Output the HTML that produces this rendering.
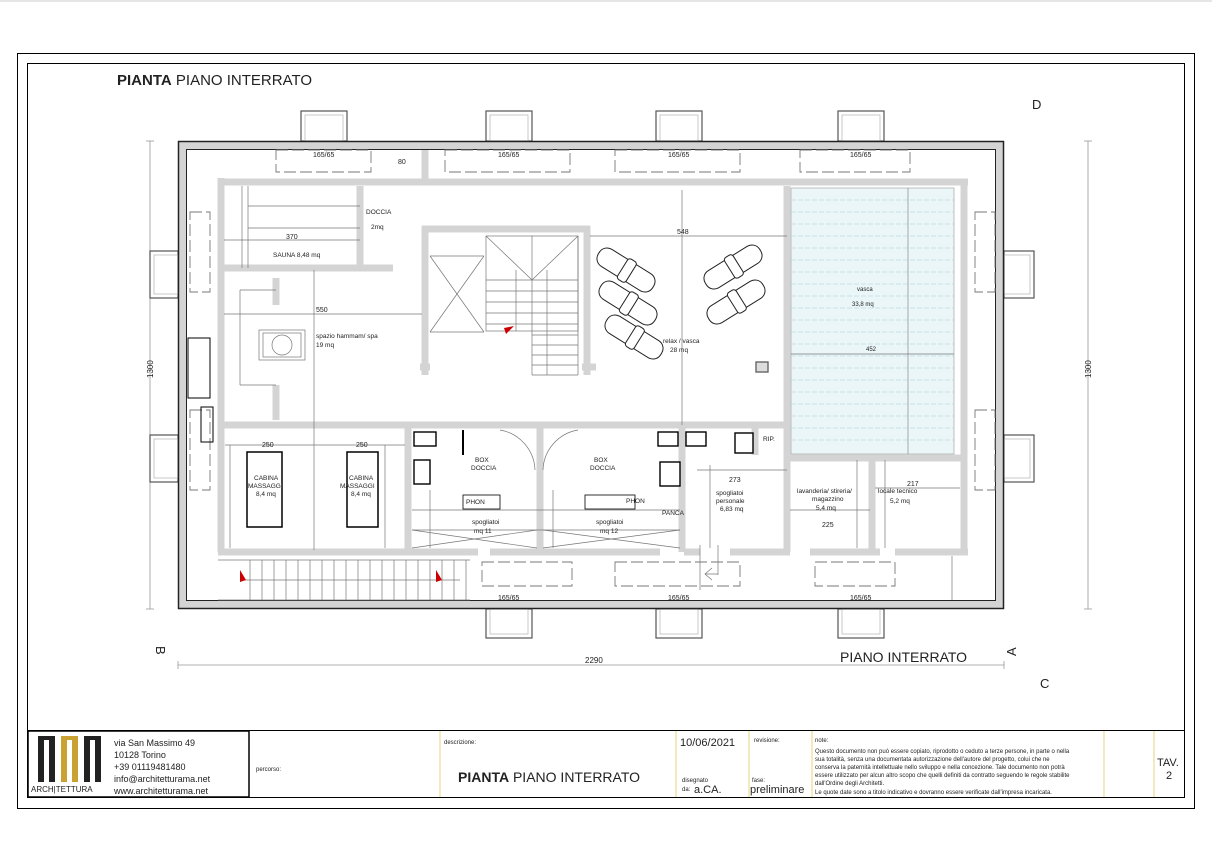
<!DOCTYPE html>
<html><head><meta charset="utf-8"><style>
html,body{margin:0;padding:0;background:#fff}
svg{display:block}
text{font-family:"Liberation Sans",sans-serif;fill:#222}
</style></head><body>
<svg width="1212" height="860" viewBox="0 0 1212 860" xmlns="http://www.w3.org/2000/svg">
<line x1="0" y1="1" x2="1212" y2="1" stroke="#ccc"/>
<rect x="17.5" y="53.5" width="1177" height="755" fill="none" stroke="#000" stroke-width="1"/>
<rect x="27.5" y="63.5" width="1157" height="734" fill="none" stroke="#000" stroke-width="1"/>
<text x="117" y="85" font-size="15" fill="#000"><tspan font-weight="bold">PIANTA</tspan> PIANO INTERRATO</text>
<text x="1032" y="109" font-size="13">D</text>
<text x="1040" y="688" font-size="13">C</text>
<text x="148" y="646" font-size="13" transform="rotate(90 152 650)">B</text>
<text x="1014" y="646" font-size="13" transform="rotate(-90 1020 650)">A</text>
<text x="840" y="662" font-size="14" fill="#000">PIANO INTERRATO</text>

<!-- dimension lines -->
<g stroke="#999" stroke-width="0.8" fill="none">
<line x1="150" y1="141" x2="150" y2="609"/><line x1="146" y1="141" x2="154" y2="141"/><line x1="146" y1="609" x2="154" y2="609"/>
<line x1="1088" y1="141" x2="1088" y2="609"/><line x1="1084" y1="141" x2="1092" y2="141"/><line x1="1084" y1="609" x2="1092" y2="609"/>
<line x1="178" y1="665" x2="1004" y2="665"/><line x1="178" y1="661" x2="178" y2="669"/><line x1="1004" y1="661" x2="1004" y2="669"/>
</g>
<text x="147" y="384" font-size="8" fill="#777" transform="rotate(-90 147 378)">1300</text>
<text x="1085" y="384" font-size="8" fill="#777" transform="rotate(-90 1085 378)">1300</text>
<text x="585" y="663" font-size="8" fill="#777">2290</text>

<!-- light wells -->
<g fill="#fff" stroke="#555" stroke-width="1.2">
<rect x="301" y="111" width="46" height="30"/><rect x="486" y="111" width="46" height="30"/><rect x="656" y="111" width="46" height="30"/><rect x="838" y="111" width="46" height="30"/>
<rect x="486" y="609" width="46" height="29"/><rect x="656" y="609" width="46" height="29"/><rect x="838" y="609" width="46" height="29"/>
<rect x="150" y="251" width="28" height="47"/><rect x="150" y="435" width="28" height="47"/>
<rect x="1004" y="251" width="30" height="47"/><rect x="1004" y="435" width="30" height="47"/>
</g>
<g fill="none" stroke="#bbb" stroke-width="0.8">
<rect x="305" y="115" width="38" height="26"/><rect x="490" y="115" width="38" height="26"/><rect x="660" y="115" width="38" height="26"/><rect x="842" y="115" width="38" height="26"/>
<rect x="490" y="609" width="38" height="25"/><rect x="660" y="609" width="38" height="25"/><rect x="842" y="609" width="38" height="25"/>
<rect x="154" y="255" width="24" height="39"/><rect x="154" y="439" width="24" height="39"/>
<rect x="1004" y="255" width="26" height="39"/><rect x="1004" y="439" width="26" height="39"/>
</g>

<!-- outer wall -->
<rect x="182" y="145" width="818" height="460" fill="none" stroke="#d4d4d4" stroke-width="8"/>
<rect x="178.5" y="141.5" width="825" height="467" fill="none" stroke="#222" stroke-width="1.5"/>
<rect x="186.5" y="149.5" width="809" height="451" fill="none" stroke="#222" stroke-width="1"/>

<!-- dashed windows -->
<g fill="none" stroke="#777" stroke-width="0.9" stroke-dasharray="12 4">
<rect x="276" y="150" width="95" height="22"/><rect x="445" y="150" width="125" height="22"/><rect x="615" y="150" width="125" height="22"/><rect x="800" y="150" width="110" height="22"/>
<rect x="482" y="562" width="90" height="24"/><rect x="615" y="562" width="125" height="24"/><rect x="815" y="562" width="80" height="24"/>
<rect x="190" y="212" width="20" height="80"/><rect x="190" y="410" width="20" height="80"/>
<rect x="975" y="212" width="20" height="80"/><rect x="975" y="410" width="20" height="80"/>
</g>
<g fill="#000">
<rect x="188" y="338" width="22" height="60" fill="none" stroke="#000"/>
<rect x="201" y="407" width="12" height="35" fill="none" stroke="#000"/>
</g>
<g font-size="7" fill="#888">
<text x="313" y="157">165/65</text><text x="498" y="157">165/65</text><text x="668" y="157">165/65</text><text x="850" y="157">165/65</text>
<text x="498" y="600">165/65</text><text x="668" y="600">165/65</text><text x="850" y="600">165/65</text>
</g>

<!-- inner walls -->
<g stroke="#d4d4d4" stroke-width="7" fill="none">
<line x1="218" y1="182" x2="968" y2="182"/>
<line x1="221" y1="178" x2="221" y2="552"/>
<line x1="964" y1="182" x2="964" y2="552"/>
<line x1="218" y1="552" x2="478" y2="552"/>
<line x1="490" y1="552" x2="660" y2="552"/>
<line x1="684" y1="552" x2="700" y2="552"/>
<line x1="730" y1="552" x2="790" y2="552"/>
<line x1="810" y1="552" x2="880" y2="552"/>
<line x1="895" y1="552" x2="968" y2="552"/>
<line x1="425" y1="150" x2="425" y2="182"/>
<line x1="360" y1="186" x2="360" y2="268"/>
<line x1="224" y1="268" x2="393" y2="268"/>
<!-- stair block -->
<line x1="425" y1="226" x2="425" y2="375"/>
<line x1="422" y1="229" x2="590" y2="229"/>
<line x1="587" y1="226" x2="587" y2="375"/>
<line x1="420" y1="367" x2="430" y2="367"/>
<line x1="582" y1="367" x2="596" y2="367"/>
<!-- row walls -->
<line x1="218" y1="425" x2="785" y2="425"/>
<line x1="408" y1="425" x2="408" y2="552"/>
<line x1="540" y1="425" x2="540" y2="552"/>
<line x1="682" y1="425" x2="682" y2="552"/>
<line x1="787" y1="186" x2="787" y2="552"/>
<line x1="790" y1="458" x2="964" y2="458"/>
<line x1="872" y1="458" x2="872" y2="552"/>
<line x1="735" y1="425" x2="790" y2="425"/>
<line x1="755" y1="425" x2="755" y2="455"/>
<line x1="276" y1="278" x2="276" y2="305"/>
<line x1="276" y1="385" x2="276" y2="420"/>
</g>

<!-- pool -->
<rect x="791" y="188" width="163" height="266" fill="#eaf6f8" stroke="#999" stroke-width="0.6"/>
<g stroke="#a9cfd6" stroke-width="0.5" stroke-dasharray="5 2">
<line x1="791" y1="200" x2="954" y2="200"/><line x1="791" y1="212" x2="954" y2="212"/><line x1="791" y1="224" x2="954" y2="224"/><line x1="791" y1="236" x2="954" y2="236"/><line x1="791" y1="248" x2="954" y2="248"/><line x1="791" y1="260" x2="954" y2="260"/><line x1="791" y1="272" x2="954" y2="272"/><line x1="791" y1="284" x2="954" y2="284"/><line x1="791" y1="296" x2="954" y2="296"/><line x1="791" y1="308" x2="954" y2="308"/><line x1="791" y1="320" x2="954" y2="320"/><line x1="791" y1="332" x2="954" y2="332"/><line x1="791" y1="344" x2="954" y2="344"/><line x1="791" y1="356" x2="954" y2="356"/><line x1="791" y1="368" x2="954" y2="368"/><line x1="791" y1="380" x2="954" y2="380"/><line x1="791" y1="392" x2="954" y2="392"/><line x1="791" y1="404" x2="954" y2="404"/><line x1="791" y1="416" x2="954" y2="416"/><line x1="791" y1="428" x2="954" y2="428"/><line x1="791" y1="440" x2="954" y2="440"/>
</g>
<line x1="908" y1="188" x2="908" y2="454" stroke="#888" stroke-width="0.7"/>
<line x1="791" y1="354" x2="954" y2="354" stroke="#777" stroke-width="0.7"/>
<text x="857" y="291" font-size="6">vasca</text><text x="852" y="306" font-size="6">33,8 mq</text>
<text x="866" y="351" font-size="6" fill="#777">452</text>

<!-- thin lines -->
<g stroke="#777" stroke-width="0.7" fill="none">
<line x1="248" y1="186" x2="248" y2="268"/><line x1="242" y1="186" x2="242" y2="268"/>
<line x1="248" y1="206" x2="360" y2="206"/><line x1="248" y1="228" x2="360" y2="228"/><line x1="224" y1="240" x2="360" y2="240"/>
<line x1="224" y1="314" x2="422" y2="314"/>
<line x1="314" y1="270" x2="314" y2="550"/>
<line x1="240" y1="290" x2="276" y2="290"/><line x1="240" y1="290" x2="240" y2="385"/><line x1="240" y1="385" x2="276" y2="385"/>
<rect x="259" y="330" width="46" height="30"/><rect x="263" y="333" width="38" height="24"/><circle cx="282" cy="345" r="10"/>
<line x1="430" y1="256" x2="484" y2="256"/><line x1="430" y1="256" x2="484" y2="332"/><line x1="484" y1="256" x2="430" y2="332"/><line x1="430" y1="332" x2="484" y2="332"/>
<rect x="486" y="236" width="92" height="95"/>
<line x1="532" y1="236" x2="532" y2="375"/><line x1="516" y1="270" x2="516" y2="331"/><line x1="547" y1="270" x2="547" y2="375"/>
<line x1="486" y1="236" x2="532" y2="280"/><line x1="578" y1="236" x2="532" y2="280"/>
<line x1="486" y1="280" x2="578" y2="280"/><line x1="486" y1="291" x2="578" y2="291"/><line x1="486" y1="302" x2="578" y2="302"/><line x1="486" y1="313" x2="578" y2="313"/><line x1="486" y1="324" x2="578" y2="324"/><line x1="532" y1="335" x2="578" y2="335"/><line x1="532" y1="345" x2="578" y2="345"/><line x1="532" y1="355" x2="578" y2="355"/><line x1="532" y1="365" x2="578" y2="365"/><line x1="532" y1="375" x2="578" y2="375"/><line x1="578" y1="236" x2="578" y2="375"/>
<line x1="590" y1="236" x2="787" y2="236"/>
<line x1="682" y1="190" x2="682" y2="425"/>
<!-- lower rooms -->
<line x1="225" y1="445" x2="405" y2="445"/><line x1="230" y1="445" x2="230" y2="548"/><line x1="385" y1="445" x2="385" y2="548"/>
<line x1="412" y1="530" x2="680" y2="530"/><line x1="412" y1="548" x2="537" y2="530"/><line x1="412" y1="530" x2="537" y2="548"/>
<line x1="543" y1="548" x2="680" y2="530"/><line x1="543" y1="530" x2="680" y2="548"/>
<line x1="412" y1="510" x2="680" y2="510"/><line x1="430" y1="490" x2="430" y2="548"/><line x1="553" y1="490" x2="553" y2="548"/>
<line x1="697" y1="470" x2="787" y2="470"/><line x1="710" y1="465" x2="710" y2="548"/>
<line x1="790" y1="510" x2="870" y2="510"/><line x1="857" y1="460" x2="857" y2="548"/><line x1="885" y1="460" x2="885" y2="548"/><line x1="875" y1="488" x2="960" y2="488"/>
<path d="M500 430 A42 42 0 0 1 535 470"/><path d="M578 430 A42 42 0 0 0 543 470"/>
<line x1="700" y1="545" x2="700" y2="590"/><line x1="718" y1="545" x2="718" y2="575"/>
<path d="M712 580 L705 574 L712 568 M705 574 L718 574"/>
<!-- bottom stairs -->
<line x1="218" y1="560" x2="470" y2="560"/><line x1="218" y1="600" x2="470" y2="600"/>
<line x1="240" y1="580" x2="460" y2="580"/>
<line x1="250" y1="560" x2="250" y2="600"/><line x1="262" y1="560" x2="262" y2="600"/><line x1="274" y1="560" x2="274" y2="600"/><line x1="286" y1="560" x2="286" y2="600"/><line x1="298" y1="560" x2="298" y2="600"/><line x1="310" y1="560" x2="310" y2="600"/><line x1="322" y1="560" x2="322" y2="600"/><line x1="334" y1="560" x2="334" y2="600"/><line x1="346" y1="560" x2="346" y2="600"/><line x1="358" y1="560" x2="358" y2="600"/><line x1="370" y1="560" x2="370" y2="600"/><line x1="382" y1="560" x2="382" y2="600"/><line x1="394" y1="560" x2="394" y2="600"/><line x1="406" y1="560" x2="406" y2="600"/><line x1="418" y1="560" x2="418" y2="600"/><line x1="430" y1="560" x2="430" y2="600"/><line x1="442" y1="560" x2="442" y2="600"/><line x1="454" y1="560" x2="454" y2="600"/><line x1="466" y1="560" x2="466" y2="600"/>
<line x1="952" y1="556" x2="952" y2="600"/>
</g>
<polygon points="240,570 246,580 240,582" fill="#c00"/><polygon points="436,570 442,580 436,582" fill="#c00"/>
<polygon points="504,328 514,326 506,334" fill="#c00"/>

<!-- chairs -->
<g fill="#fff" stroke="#222" stroke-width="1">
<g transform="translate(626,270) rotate(32)"><rect x="-32" y="-10" width="64" height="20" rx="9"/><rect x="-4" y="-12" width="10" height="24" rx="3"/></g>
<g transform="translate(628,303) rotate(32)"><rect x="-32" y="-10" width="64" height="20" rx="9"/><rect x="-4" y="-12" width="10" height="24" rx="3"/></g>
<g transform="translate(634,337) rotate(32)"><rect x="-32" y="-10" width="64" height="20" rx="9"/><rect x="-4" y="-12" width="10" height="24" rx="3"/></g>
<g transform="translate(733,267) rotate(-32)"><rect x="-32" y="-10" width="64" height="20" rx="9"/><rect x="-4" y="-12" width="10" height="24" rx="3"/></g>
<g transform="translate(736,302) rotate(-32)"><rect x="-32" y="-10" width="64" height="20" rx="9"/><rect x="-4" y="-12" width="10" height="24" rx="3"/></g>
</g>
<!-- massage tables -->
<rect x="247" y="452" width="35" height="75" fill="none" stroke="#000" stroke-width="1.5"/>
<rect x="347" y="452" width="31" height="75" fill="none" stroke="#000" stroke-width="1.5"/>
<!-- fixtures -->
<g fill="#fff" stroke="#000" stroke-width="1.4">
<rect x="414" y="432" width="22" height="14"/><rect x="414" y="460" width="16" height="24"/>
<rect x="658" y="432" width="20" height="14"/><rect x="686" y="432" width="20" height="14"/><rect x="660" y="462" width="20" height="24"/>
<rect x="735" y="433" width="18" height="20"/><rect x="756" y="362" width="12" height="10" stroke="#666" fill="#ddd"/>
<rect x="463" y="495" width="37" height="14" stroke-width="0.8"/><rect x="585" y="495" width="50" height="14" stroke-width="0.8"/>
</g>
<line x1="463" y1="430" x2="463" y2="455" stroke="#000" stroke-width="2"/>

<!-- labels -->
<g font-size="6.5" fill="#222">
<text x="366" y="214">DOCCIA</text><text x="371" y="229">2mq</text>
<text x="273" y="257">SAUNA 8,48 mq</text>
<text x="316" y="338">spazio hammam/ spa</text><text x="316" y="347">19 mq</text>
<text x="663" y="343">relax / vasca</text><text x="670" y="352">28 mq</text>
<text x="475" y="462">BOX</text><text x="471" y="470">DOCCIA</text>
<text x="594" y="462">BOX</text><text x="590" y="470">DOCCIA</text>
<text x="466" y="504">PHON</text><text x="626" y="503">PHON</text><text x="662" y="515">PANCA</text>
<text x="472" y="524">spogliatoi</text><text x="474" y="533">mq 11</text>
<text x="596" y="524">spogliatoi</text><text x="600" y="533">mq 12</text>
<text x="716" y="495">spogliatoi</text><text x="716" y="503">personale</text><text x="720" y="511">6,83 mq</text>
<text x="797" y="493">lavanderia/ stireria/</text><text x="812" y="501">magazzino</text><text x="816" y="510">5,4 mq</text>
<text x="878" y="493">locale tecnico</text><text x="890" y="503">5,2 mq</text>
<text x="763" y="441">RIP.</text>
<text x="254" y="480">CABINA</text><text x="248" y="488">MASSAGGI</text><text x="256" y="496">8,4 mq</text>
<text x="349" y="480">CABINA</text><text x="340" y="488">MASSAGGI</text><text x="351" y="496">8,4 mq</text>
</g>
<g font-size="7" fill="#888">
<text x="286" y="239">370</text><text x="316" y="312">550</text><text x="677" y="234">548</text>
<text x="262" y="447">250</text><text x="356" y="447">250</text><text x="729" y="482">273</text>
<text x="822" y="527">225</text><text x="907" y="486">217</text><text x="398" y="164">80</text>
</g>

<!-- title block -->
<line x1="27" y1="730.5" x2="1185" y2="730.5" stroke="#000"/>
<rect x="28" y="731" width="221" height="66" fill="none" stroke="#000" stroke-width="1.5"/>
<g stroke="#e5c95a" stroke-width="0.8">
<line x1="440" y1="731" x2="440" y2="797"/><line x1="676" y1="731" x2="676" y2="797"/><line x1="749" y1="731" x2="749" y2="797"/><line x1="812" y1="731" x2="812" y2="797"/><line x1="1104" y1="731" x2="1104" y2="797"/><line x1="1154" y1="731" x2="1154" y2="797"/>
</g>
<g fill="#222"><rect x="38" y="738" width="6" height="44"/><rect x="49" y="738" width="6" height="44"/><rect x="38" y="736" width="17" height="4"/>
<rect x="61" y="738" width="6" height="44" fill="#c9a233"/><rect x="72" y="738" width="6" height="44" fill="#c9a233"/><rect x="61" y="736" width="17" height="4" fill="#c9a233"/>
<rect x="84" y="738" width="6" height="44"/><rect x="95" y="738" width="6" height="44"/><rect x="84" y="736" width="17" height="4"/></g>
<text x="31" y="792" font-size="8" fill="#555">ARCH|TETTURA</text>
<g font-size="9" fill="#111">
<text x="114" y="746">via San Massimo 49</text><text x="114" y="758">10128 Torino</text><text x="114" y="770">+39 01119481480</text><text x="114" y="782">info@architetturama.net</text><text x="114" y="794">www.architetturama.net</text>
</g>
<g font-size="6" fill="#333">
<text x="256" y="771">percorso:</text><text x="444" y="744">descrizione:</text><text x="754" y="742">revisione:</text><text x="815" y="742">note:</text>
<text x="682" y="782">disegnato</text><text x="682" y="791">da:</text><text x="752" y="782">fase:</text>
<text x="815" y="753">Questo documento non può essere copiato, riprodotto o ceduto a terze persone, in parte o nella</text>
<text x="815" y="761">sua totalità, senza una documentata autorizzazione dell'autore del progetto, colui che ne</text>
<text x="815" y="769">conserva la paternità intellettuale nello sviluppo e nella concezione. Tale documento non potrà</text>
<text x="815" y="777">essere utilizzato per alcun altro scopo che quelli definiti da contratto seguendo le regole stabilite</text>
<text x="815" y="785">dall'Ordine degli Architetti.</text>
<text x="815" y="794">Le quote date sono a titolo indicativo e dovranno essere verificate dall'impresa incaricata.</text>
</g>
<text x="458" y="782" font-size="14" fill="#000"><tspan font-weight="bold">PIANTA</tspan> PIANO INTERRATO</text>
<text x="680" y="746" font-size="11">10/06/2021</text>
<text x="694" y="793" font-size="11">a.CA.</text>
<text x="750" y="793" font-size="11">preliminare</text>
<text x="1157" y="766" font-size="11" fill="#555">TAV.</text>
<text x="1166" y="779" font-size="11" fill="#333">2</text>
</svg>
</body></html>
